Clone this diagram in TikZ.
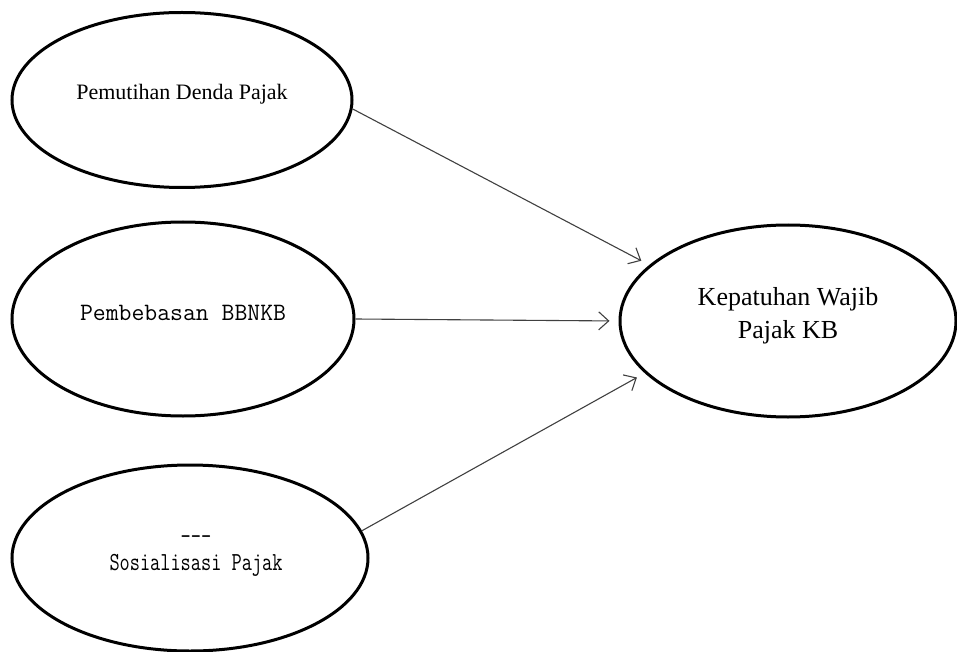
\documentclass[tikz,border=0pt]{standalone}
\usepackage{fontspec}
\setmainfont{Liberation Serif}
\usetikzlibrary{shapes.geometric,arrows.meta}
\newcommand{\lift}[1]{\raisebox{6pt}[\height][\depth]{#1}}

\begin{document}
\begin{tikzpicture}[x=1pt,y=-1pt,
    ell/.style={draw, ellipse, line width=3pt, inner sep=0pt},
    link/.style={draw=black!75, line width=1.1pt, -{Straight Barb[length=10pt,width=18pt]}, shorten >=9pt}]
        \useasboundingbox (0,0) rectangle (957,652);

        \node at (182,100) (pemutihan) [ell, minimum width=340pt, minimum height=175pt, font=\fontsize{22}{26}\selectfont] {\lift{Pemutihan Denda Pajak}};
        \node at (183,319) (bbnkb) [ell, minimum width=342pt, minimum height=194pt, font=\ttfamily\fontsize{25}{27}\selectfont] {\lift{Pembebasan BBNKB}};
        \node at (190,558) (sosialisasi) [ell, minimum width=356pt, minimum height=186pt, font=\ttfamily\fontsize{26}{26}\selectfont] {\hspace{12pt}\lift{\scalebox{0.76}[1]{\begin{tabular}{@{}c@{}}-{}-{}-\\Sosialisasi Pajak\end{tabular}}}};
        \node at (788,321) (kepatuhan) [ell, minimum width=336pt, minimum height=192pt, font=\fontsize{26}{33}\selectfont] {\lift{\begin{tabular}{@{}c@{}}Kepatuhan Wajib\\Pajak KB\end{tabular}}};

        \draw[link] (pemutihan.-3) -- (kepatuhan.158);
        \draw[link] (bbnkb.east) -- (kepatuhan.west);
        \draw[link] (sosialisasi.9) -- (kepatuhan.200);

    \end{tikzpicture}
\end{document}
